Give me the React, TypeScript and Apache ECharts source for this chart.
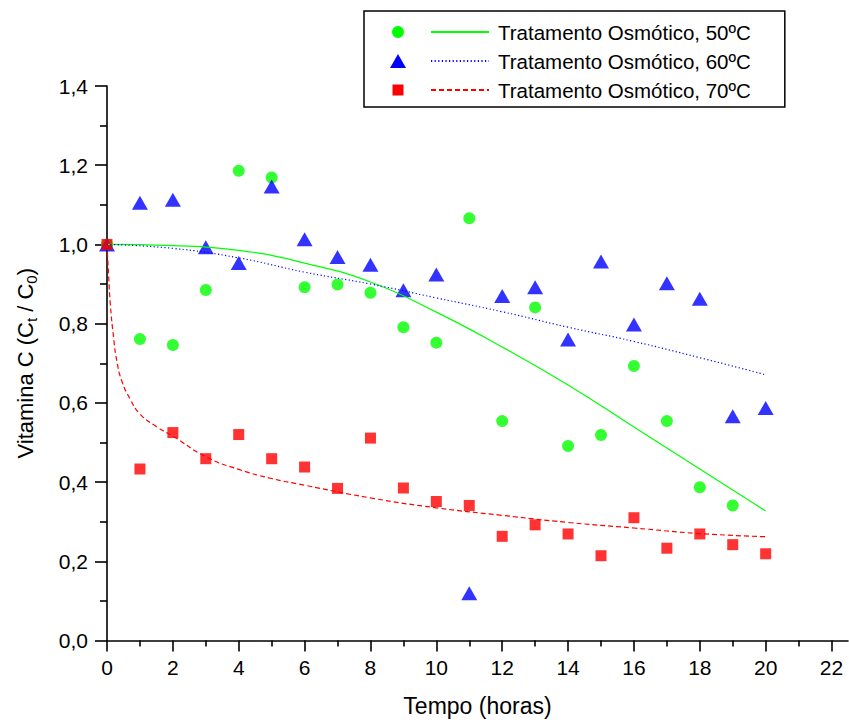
import React, { useEffect, useRef } from "react";
import * as echarts from "echarts";

// ---- data ----
const timeHours = [0, 1, 2, 3, 4, 5, 6, 7, 8, 9, 10, 11, 12, 13, 14, 15, 16, 17, 18, 19, 20];
const vitC50 = [1.0, 0.761, 0.746, 0.885, 1.186, 1.169, 0.892, 0.899, 0.878, 0.791, 0.752, 1.066, 0.554, 0.841, 0.491, 0.519, 0.693, 0.554, 0.387, 0.341];
const vitC60 = [1.0, 1.105, 1.113, 0.993, 0.953, 1.146, 1.013, 0.968, 0.949, 0.884, 0.924, 0.119, 0.87, 0.892, 0.76, 0.957, 0.798, 0.902, 0.863, 0.566, 0.587];
const vitC70 = [1.0, 0.433, 0.525, 0.459, 0.52, 0.459, 0.438, 0.384, 0.511, 0.385, 0.351, 0.341, 0.263, 0.292, 0.269, 0.214, 0.31, 0.233, 0.269, 0.242, 0.219];

const fitX = [0, 2, 4, 6, 8, 10, 12, 14, 16, 18, 20];
const fit50 = [1.0, 0.997, 0.985, 0.953, 0.905, 0.829, 0.741, 0.645, 0.539, 0.433, 0.327];
const fit60 = [1.0, 0.99, 0.966, 0.93, 0.9, 0.865, 0.83, 0.791, 0.755, 0.714, 0.671];
const fit70X = [0, 0.05, 0.1, 0.2, 0.3, 0.45, 0.7, 1, 1.5, 2, 3, 4, 5, 6, 8, 10, 12, 14, 16, 18, 20];
const fit70 = [1.0, 0.92, 0.85, 0.765, 0.705, 0.655, 0.61, 0.572, 0.54, 0.516, 0.464, 0.432, 0.409, 0.392, 0.36, 0.335, 0.316, 0.298, 0.284, 0.27, 0.262];

const xMajorTicks = [0, 2, 4, 6, 8, 10, 12, 14, 16, 18, 20, 22];
const xMinorTicks = [1, 3, 5, 7, 9, 11, 13, 15, 17, 19, 21];

const seriesNames = [
  "Tratamento Osmótico, 50ºC",
  "Tratamento Osmótico, 60ºC",
  "Tratamento Osmótico, 70ºC",
];

const FONT = "'Liberation Sans', Arial, Helvetica, sans-serif";
const GREEN = "#00FF00";
const BLUE = "#0000FF";
const RED = "#FF0000";

const pairs = (xs: number[], ys: number[]) => ys.map((y, i) => [xs[i], y]);

export default function App() {
  const ref = useRef<HTMLDivElement>(null);

  useEffect(() => {
    if (!ref.current) return;
    const chart = echarts.init(ref.current, undefined, { renderer: "svg" });

    const axisLineStyle = { color: "#000", width: 1.6 };

    const option: any = {
      animation: false,
      backgroundColor: "#fff",
      grid: { left: 107, right: 1, top: 86, bottom: 82.5, containLabel: false },
      xAxis: [
        {
          type: "value",
          min: 0,
          max: 22.5,
          interval: 2,
          position: "bottom",
          name: "Tempo (horas)",
          nameLocation: "middle",
          nameGap: 54,
          nameTextStyle: { fontSize: 23, color: "#000", fontFamily: FONT },
          axisLine: { show: true, onZero: false, lineStyle: axisLineStyle },
          axisTick: { show: true, length: 11, lineStyle: axisLineStyle, customValues: xMajorTicks },
          axisLabel: {
            show: true,
            margin: 16,
            fontSize: 21,
            color: "#000",
            fontFamily: FONT,
            customValues: xMajorTicks,
            formatter: (v: number) => String(v),
          },
          splitLine: { show: false },
        },
        {
          type: "value",
          min: 0,
          max: 22.5,
          interval: 1,
          position: "bottom",
          axisLine: { show: false },
          axisTick: { show: true, length: 6, lineStyle: axisLineStyle, customValues: xMinorTicks },
          axisLabel: { show: false },
          splitLine: { show: false },
        },
      ],
      yAxis: {
        type: "value",
        min: 0,
        max: 1.4,
        interval: 0.2,
        name: "Vitamina C (C{s|t} / C{s|0})",
        nameLocation: "middle",
        nameGap: 68,
        nameTextStyle: {
          fontSize: 22,
          color: "#000",
          fontFamily: FONT,
          lineHeight: 28,
          rich: {
            s: { fontSize: 15, lineHeight: 15, verticalAlign: "bottom", color: "#000", fontFamily: FONT },
          },
        },
        axisLine: { show: true, onZero: false, lineStyle: axisLineStyle },
        axisTick: { show: true, length: 12, lineStyle: axisLineStyle },
        minorTick: { show: true, splitNumber: 2, length: 7, lineStyle: axisLineStyle },
        axisLabel: {
          margin: 19,
          fontSize: 21,
          color: "#000",
          fontFamily: FONT,
          formatter: (v: number) => v.toFixed(1).replace(".", ","),
        },
        splitLine: { show: false },
        minorSplitLine: { show: false },
      },
      legend: {
        show: true,
        orient: "vertical",
        left: 364,
        top: 11,
        padding: [10, 34, 6, 66],
        itemWidth: 58,
        itemHeight: 14,
        itemGap: 7,
        selectedMode: false,
        borderColor: "#000",
        borderWidth: 1.5,
        backgroundColor: "#fff",
        itemStyle: { opacity: 0 },
        textStyle: { fontSize: 20.5, lineHeight: 22, color: "#000", fontFamily: FONT, padding: [0, 0, 0, 4] },
        data: seriesNames,
      },
      graphic: [
        { type: "circle", shape: { cx: 398, cy: 32, r: 6 }, style: { fill: GREEN }, z: 100 },
        { type: "polygon", shape: { points: [[398, 54], [406, 68], [390, 68]] }, style: { fill: BLUE }, z: 100 },
        { type: "rect", shape: { x: 392.5, y: 84.5, width: 11, height: 11 }, style: { fill: RED }, z: 100 },
      ],
      series: [
        {
          name: "50ºC (dados)",
          type: "scatter",
          symbol: "circle",
          symbolSize: 12,
          itemStyle: { color: GREEN },
          data: pairs(timeHours, vitC50),
        },
        {
          name: "60ºC (dados)",
          type: "scatter",
          symbol: "triangle",
          symbolSize: [16, 14],
          itemStyle: { color: BLUE },
          data: pairs(timeHours, vitC60),
        },
        {
          name: "70ºC (dados)",
          type: "scatter",
          symbol: "rect",
          symbolSize: 11,
          itemStyle: { color: RED },
          data: pairs(timeHours, vitC70),
        },
        {
          name: seriesNames[0],
          type: "line",
          symbol: "none",
          smooth: 0.5,
          itemStyle: { color: GREEN },
          lineStyle: { color: GREEN, width: 1.2, type: "solid" },
          data: pairs(fitX, fit50),
        },
        {
          name: seriesNames[1],
          type: "line",
          symbol: "none",
          smooth: 0.5,
          itemStyle: { color: BLUE },
          lineStyle: { color: BLUE, width: 1.2, type: [1.2, 2.4] },
          data: pairs(fitX, fit60),
        },
        {
          name: seriesNames[2],
          type: "line",
          symbol: "none",
          smooth: 0.5,
          itemStyle: { color: RED },
          lineStyle: { color: RED, width: 1.2, type: [5, 3] },
          data: pairs(fit70X, fit70),
        },
      ],
    };

    chart.setOption(option);
    return () => chart.dispose();
  }, []);

  return (
    <div
      ref={ref}
      style={{ position: "fixed", left: 0, top: 0, width: 849, height: 723, background: "#fff" }}
    />
  );
}
